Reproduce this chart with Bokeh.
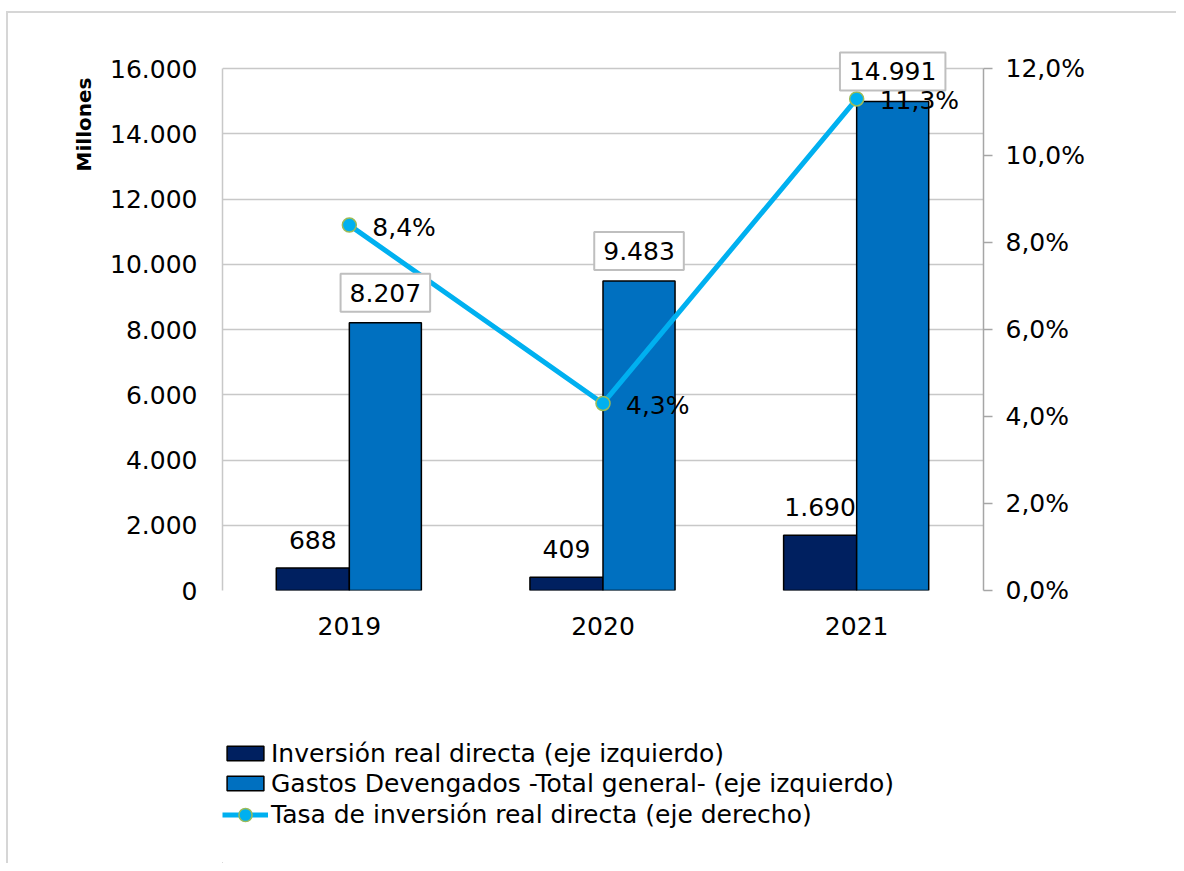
from bokeh.plotting import figure
from bokeh.layouts import column
from bokeh.models import (ColumnDataSource, FactorRange, Range1d, LinearAxis, FixedTicker,
                          Legend, LegendItem, Title)
from bokeh.transform import dodge
from bokeh.core.properties import value
from bokeh.embed import file_html
from bokeh.resources import INLINE

# ---- data ----
years = ["2019", "2020", "2021"]
inversion = [688, 409, 1690]          # Inversión real directa (millones)
gastos = [8207, 9483, 14991]          # Gastos devengados total general (millones)
tasa = [8.4, 4.3, 11.3]               # Tasa de inversión real directa (%)

left_ticks = [0, 2000, 4000, 6000, 8000, 10000, 12000, 14000, 16000]
left_tick_labels = ["0", "2.000", "4.000", "6.000", "8.000", "10.000", "12.000", "14.000", "16.000"]
right_ticks = [0, 2, 4, 6, 8, 10, 12]
right_tick_labels = ["0,0%", "2,0%", "4,0%", "6,0%", "8,0%", "10,0%", "12,0%"]

series_names = ["Inversión real directa (eje izquierdo)",
                "Gastos Devengados -Total general- (eje izquierdo)",
                "Tasa de inversión real directa (eje derecho)"]

FONT = "DejaVu Sans"
FS = "25px"
C_INV = "#002060"
C_GAS = "#0070C0"
C_TASA = "#00B0F0"
C_MARK_LINE = "#9BBB59"


def miles(v):
    return f"{v:,}".replace(",", ".")


def pct(v):
    return f"{v:.1f}".replace(".", ",") + "%"


src = ColumnDataSource(dict(
    year=years, inv=inversion, gas=gastos, tasa=tasa,
    inv_lbl=[miles(v) for v in inversion],
    gas_lbl=[miles(v) for v in gastos],
    tasa_lbl=[pct(v) for v in tasa],
))

# plot frame: axes span 522px; extra head-room above the top tick so labels are not clipped
AXIS_PX = 522
HEAD_PX = 28
y_max = left_ticks[-1]
r_max = right_ticks[-1]
head = (AXIS_PX + HEAD_PX) / AXIS_PX
W = 1176
BL = 222
BR = W - 983

p = figure(width=W, height=660,
           x_range=FactorRange(*years), y_range=Range1d(0, y_max * head),
           output_backend="svg", toolbar_location=None,
           min_border_left=BL, min_border_right=BR,
           min_border_top=68 - HEAD_PX, min_border_bottom=70,
           background_fill_color="white", border_fill_color=None)
p.extra_y_ranges = {"pct": Range1d(0, r_max * head)}

# axes
p.yaxis.ticker = FixedTicker(ticks=left_ticks)
p.yaxis.major_label_overrides = dict(zip(left_ticks, left_tick_labels))
p.yaxis.bounds = (0, y_max)
p.yaxis.axis_line_color = "#C8C8C8"
p.yaxis.axis_line_width = 1.5
p.yaxis.major_tick_line_color = None
p.yaxis.minor_tick_line_color = None
p.yaxis.major_label_standoff = 19
p.yaxis.major_label_text_font = FONT
p.yaxis.major_label_text_font_size = FS
p.yaxis.major_label_text_color = "black"

p.xaxis.axis_line_color = None
p.xaxis.major_tick_line_color = None
p.xaxis.minor_tick_line_color = None
p.xaxis.major_label_standoff = 20
p.xaxis.major_label_text_font = FONT
p.xaxis.major_label_text_font_size = FS
p.xaxis.major_label_text_color = "black"

ax_r = LinearAxis(y_range_name="pct", ticker=FixedTicker(ticks=right_ticks),
                  major_label_overrides=dict(zip(right_ticks, right_tick_labels)),
                  bounds=(0, r_max))
ax_r.axis_line_color = "#A6A6A6"
ax_r.axis_line_width = 1.5
ax_r.major_tick_line_color = "#A6A6A6"
ax_r.major_tick_line_width = 1.5
ax_r.major_tick_out = 9
ax_r.major_tick_in = 0
ax_r.minor_tick_line_color = None
ax_r.major_label_standoff = 13
ax_r.major_label_text_font = FONT
ax_r.major_label_text_font_size = FS
ax_r.major_label_text_color = "black"
p.add_layout(ax_r, "right")

p.add_layout(Title(text="Millones", align="right", offset=37, standoff=24,
                   text_font=FONT, text_font_style="bold", text_font_size="20px",
                   text_color="black"), "left")

p.xgrid.visible = False
p.ygrid.ticker = FixedTicker(ticks=left_ticks)
p.ygrid.grid_line_color = "#C8C8C8"
p.ygrid.grid_line_width = 1.5
p.outline_line_color = None

# bars
p.vbar(x=dodge("year", -0.144, range=p.x_range), top="inv", width=0.288, source=src,
       fill_color=C_INV, line_color="black", line_width=1.5)
p.vbar(x=dodge("year", 0.142, range=p.x_range), top="gas", width=0.284, source=src,
       fill_color=C_GAS, line_color="black", line_width=1.5)

# line
p.line(x="year", y="tasa", y_range_name="pct", source=src, line_color=C_TASA, line_width=5)
p.scatter(x="year", y="tasa", y_range_name="pct", source=src, size=14,
          fill_color=C_TASA, line_color=C_MARK_LINE, line_width=1.5)

# data labels
p.text(x=dodge("year", -0.144, range=p.x_range), y="inv", text="inv_lbl", source=src,
       text_align="center", text_baseline="middle", y_offset=-28,
       text_font=value(FONT), text_font_size=FS, text_color="black")
p.text(x=dodge("year", 0.142, range=p.x_range), y="gas", text="gas_lbl", source=src,
       text_align="center", text_baseline="middle", y_offset=-30,
       text_font=value(FONT), text_font_size=FS, text_color="black",
       background_fill_color="white", border_line_color="#BFBFBF", border_line_width=2,
       padding=(9, 10))
p.text(x="year", y="tasa", text="tasa_lbl", source=src, y_range_name="pct",
       text_align="left", text_baseline="middle", x_offset=23, y_offset=2,
       text_font=value(FONT), text_font_size=FS, text_color="black")

# ---- legend strip (separate figure below the chart; its frame aligns with the chart's) ----
LH = 863 - 660
q = figure(width=W, height=LH, x_range=Range1d(0, 1), y_range=Range1d(0, 1),
           output_backend="svg", toolbar_location=None,
           x_axis_location=None, y_axis_location=None,
           min_border_left=BL, min_border_right=0, min_border_top=0, min_border_bottom=0,
           background_fill_color=None, border_fill_color=None, outline_line_color=None)
q.grid.visible = False
# legend-key renderers: one point each, placed outside the visible range
keysrc = ColumnDataSource(dict(x=[-5], y=[-5]))
k1 = q.vbar(x="x", top="y", width=0.1, source=keysrc, fill_color=C_INV,
            line_color="black", line_width=1.5)
k2 = q.vbar(x="x", top="y", width=0.1, source=keysrc, fill_color=C_GAS,
            line_color="black", line_width=1.5)
k3 = q.line(x="x", y="y", source=keysrc, line_color=C_TASA, line_width=5)
k4 = q.scatter(x="x", y="y", source=keysrc, size=14, fill_color=C_TASA,
               line_color=C_MARK_LINE, line_width=1.5)

common = dict(orientation="vertical", border_line_color=None, background_fill_alpha=0,
              padding=0, margin=0, spacing=0, glyph_width=46, label_standoff=3,
              label_text_font=FONT, label_text_font_size=FS, label_text_color="black")
leg_bars = Legend(items=[LegendItem(label=series_names[0], renderers=[k1]),
                         LegendItem(label=series_names[1], renderers=[k2])],
                  location=(0, 65), glyph_height=18, label_height=30, **common)
leg_line = Legend(items=[LegendItem(label=series_names[2], renderers=[k3, k4])],
                  location=(0, 32), glyph_height=33, label_height=30, **common)
q.add_layout(leg_bars, "center")
q.add_layout(leg_line, "center")

layout = column(p, q, spacing=0)
layout.styles = {
    "background": ("linear-gradient(#D6D6D6,#D6D6D6) 7px 11px / 100% 2px no-repeat, "
                   "linear-gradient(#D6D6D6,#D6D6D6) 6px 11px / 2px 100% no-repeat, white"),
}

open("out.html", "w").write(file_html(layout, INLINE))
